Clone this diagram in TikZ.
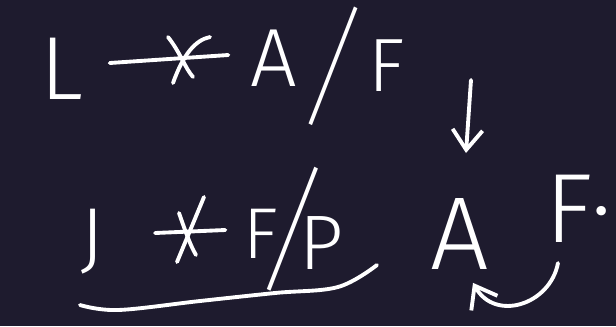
\documentclass[tikz,border=0pt]{standalone}
\usepackage{fontspec}
\newfontfamily\hand{Fira Sans Light}
\usetikzlibrary{arrows.meta}
\definecolor{board}{RGB}{30,27,46}
\tikzset{
  glyph/.style={text=white, inner sep=0pt, font=\hand\fontsize{#1}{#1}\selectfont},
  ink/.style={draw=white, line width=2.2pt, line cap=round, line join=round},
}
\begin{document}
\begin{tikzpicture}[x=0.02cm, y=-0.02cm, >={Straight Barb[length=0.4cm,width=0.6cm]}]
        \fill[board] (0,0) rectangle (616,326);
        \useasboundingbox (0,0) rectangle (616,326);

        % Top line: L, crossed arrow, A/F
        \node[glyph=51] (L) at (62,69) {L};
        \node[glyph=47] (A1) at (274,58) {A};
        \node[glyph=44, yscale=1.7, xslant=0.4] (S1) at (333,66) {/};
        \node[glyph=43] (F1) at (387,66) {F};

        \draw[ink] ([shift={(26,-6)}]L.east) -- ([shift={(-22,-3)}]A1.west);
        \draw[ink] (168,37) .. controls (180,52) and (185,68) .. (193,77);
        \draw[ink] (210,37) .. controls (195,40) and (183,55) .. (173,83);

        % Down arrow
        \coordinate (dtop) at (471,80);
        \coordinate (dend) at (466,153);
        \draw[ink, ->] (dtop) -- (dend);

        % Bottom line: J, crossed arrow, F/P
        \node[glyph=46] (J) at (92,242) {J};
        \node[glyph=41] (F2) at (261,234) {F};
        \node[glyph=46, yscale=1.7, xslant=0.4] (S2) at (293,229) {/};
        \node[glyph=44] (P) at (322,243) {P};

        \draw[ink] ([shift={(51,-9)}]J.east) -- ([shift={(-18,-4)}]F2.west);
        \draw[ink] (204,197) -- (177,262);
        \draw[ink] (179,213) .. controls (185,230) and (190,245) .. (196,255);

        % Underline
        \draw[ink] plot[smooth, tension=0.6] coordinates {(80,305) (118,310) (200,301) (275,293) (338,287) (377,265)};

        % A and F, with the turn back
        \node[glyph=59] (A2) at (460,234) {A};
        \node[glyph=56, anchor=west] (F3) at (545,209) {F·};
        \draw[ink, ->] ([shift={(13,20)}]F3.south west) .. controls (550,305) and (495,322) .. ([shift={(13,13)}]A2.south);
\end{tikzpicture}
\end{document}
